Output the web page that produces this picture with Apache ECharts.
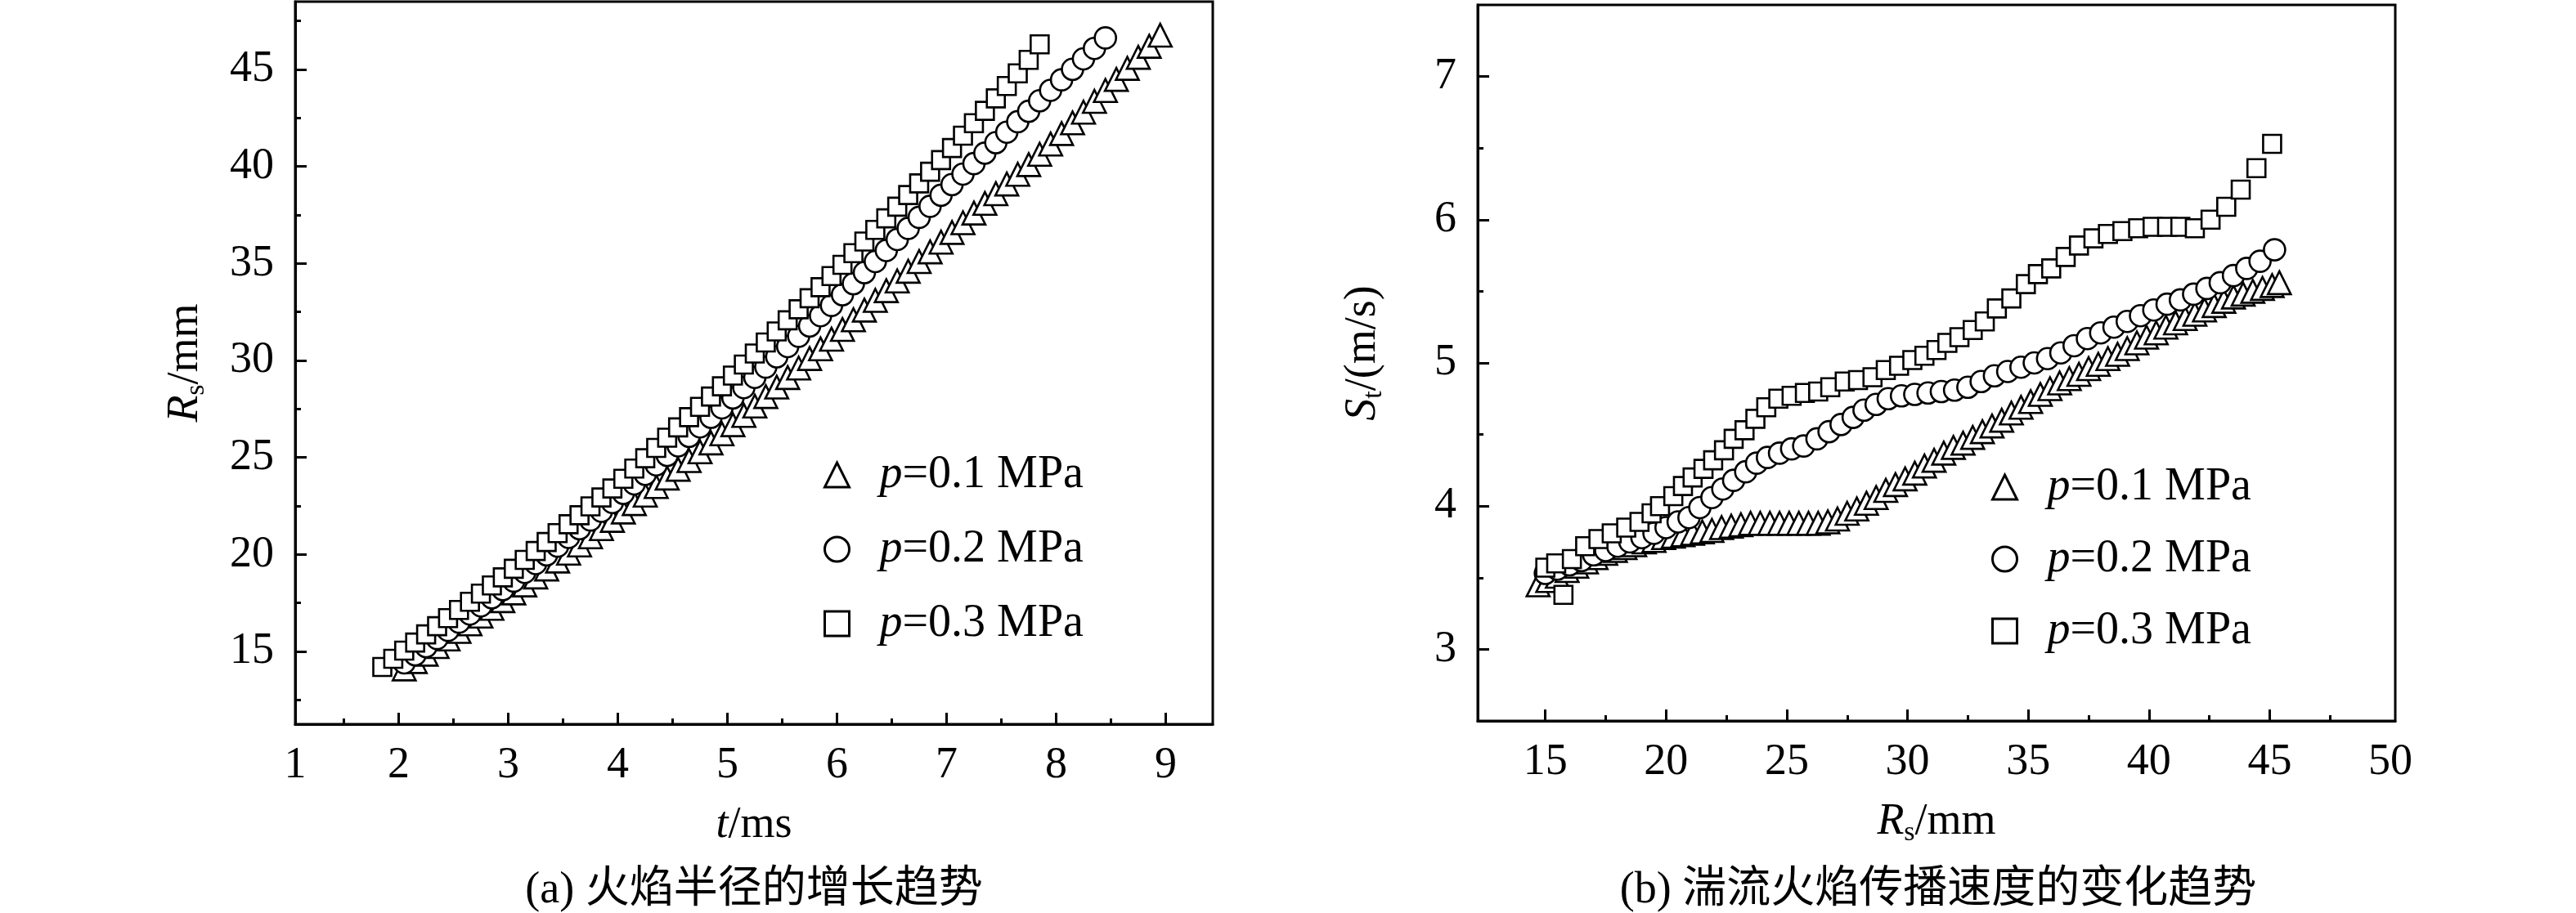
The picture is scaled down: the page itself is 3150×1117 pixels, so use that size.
<!DOCTYPE html>
<html>
<head>
<meta charset="utf-8">
<title>火焰半径与湍流火焰传播速度</title>
<script src="https://cdn.jsdelivr.net/npm/echarts@6/dist/echarts.min.js"></script>
<style>
html, body { margin: 0; padding: 0; background: #fff; }
#main { width: 3150px; height: 1117px; }
</style>
</head>
<body>
<div id="main"></div>
<script>
// 图例
var seriesNames = ['p=0.1 MPa', 'p=0.2 MPa', 'p=0.3 MPa'];
var seriesSymbols = ['triangle', 'circle', 'rect'];
var symbolSizes = [28, 26, 22];

// (a) 火焰半径 [t/ms, Rs/mm]
var radius01 = [[2.05,14.10],[2.15,14.48],[2.25,14.86],[2.35,15.25],[2.45,15.64],[2.55,16.03],[2.65,16.42],[2.75,16.82],[2.85,17.22],[2.95,17.62],
    [3.05,18.02],[3.15,18.43],[3.25,18.84],[3.35,19.25],[3.45,19.66],[3.55,20.07],[3.65,20.49],[3.75,20.91],[3.85,21.33],[3.95,21.76],
    [4.05,22.19],[4.15,22.62],[4.25,23.06],[4.35,23.50],[4.45,23.94],[4.55,24.39],[4.65,24.84],[4.75,25.29],[4.85,25.75],[4.95,26.22],
    [5.05,26.69],[5.15,27.17],[5.25,27.65],[5.35,28.14],[5.45,28.63],[5.55,29.12],[5.65,29.61],[5.75,30.10],[5.85,30.60],[5.95,31.10],
    [6.05,31.60],[6.15,32.10],[6.25,32.60],[6.35,33.10],[6.45,33.60],[6.55,34.10],[6.65,34.60],[6.75,35.10],[6.85,35.60],[6.95,36.10],
    [7.05,36.60],[7.15,37.10],[7.25,37.60],[7.35,38.10],[7.45,38.60],[7.55,39.10],[7.65,39.60],[7.75,40.10],[7.85,40.63],[7.95,41.16],
    [8.05,41.70],[8.15,42.25],[8.25,42.80],[8.35,43.36],[8.45,43.92],[8.55,44.49],[8.65,45.06],[8.75,45.63],[8.85,46.20],[8.95,46.77]];
var radius02 = [[2.05,14.41],[2.15,14.83],[2.25,15.25],[2.35,15.67],[2.45,16.09],[2.55,16.51],[2.65,16.93],[2.75,17.35],[2.85,17.77],[2.95,18.19],
    [3.05,18.63],[3.15,19.08],[3.25,19.53],[3.35,19.98],[3.45,20.43],[3.55,20.88],[3.65,21.33],[3.75,21.78],[3.85,22.23],[3.95,22.68],
    [4.05,23.15],[4.15,23.64],[4.25,24.13],[4.35,24.62],[4.45,25.11],[4.55,25.60],[4.65,26.09],[4.75,26.58],[4.85,27.07],[4.95,27.56],
    [5.05,28.07],[5.15,28.60],[5.25,29.13],[5.35,29.66],[5.45,30.19],[5.55,30.72],[5.65,31.25],[5.75,31.78],[5.85,32.31],[5.95,32.84],
    [6.05,33.39],[6.15,33.96],[6.25,34.53],[6.35,35.10],[6.45,35.67],[6.55,36.24],[6.65,36.81],[6.75,37.38],[6.85,37.95],[6.95,38.52],
    [7.05,39.07],[7.15,39.61],[7.25,40.15],[7.35,40.69],[7.45,41.23],[7.55,41.77],[7.65,42.31],[7.75,42.85],[7.85,43.39],[7.95,43.93],
    [8.05,44.47],[8.15,45.01],[8.25,45.55],[8.35,46.09],[8.45,46.63]];
var radius03 = [[1.85,14.20],[1.95,14.62],[2.05,15.04],[2.15,15.46],[2.25,15.88],[2.35,16.30],[2.45,16.72],[2.55,17.14],[2.65,17.56],[2.75,17.98],
    [2.85,18.40],[2.95,18.82],[3.05,19.26],[3.15,19.72],[3.25,20.18],[3.35,20.64],[3.45,21.10],[3.55,21.56],[3.65,22.02],[3.75,22.48],
    [3.85,22.94],[3.95,23.40],[4.05,23.90],[4.15,24.43],[4.25,24.96],[4.35,25.49],[4.45,26.02],[4.55,26.55],[4.65,27.08],[4.75,27.61],
    [4.85,28.14],[4.95,28.67],[5.05,29.22],[5.15,29.79],[5.25,30.36],[5.35,30.93],[5.45,31.50],[5.55,32.07],[5.65,32.64],[5.75,33.21],
    [5.85,33.78],[5.95,34.35],[6.05,34.93],[6.15,35.53],[6.25,36.13],[6.35,36.73],[6.45,37.33],[6.55,37.93],[6.65,38.53],[6.75,39.13],
    [6.85,39.73],[6.95,40.33],[7.05,40.95],[7.15,41.59],[7.25,42.23],[7.35,42.87],[7.45,43.51],[7.55,44.15],[7.65,44.80],[7.75,45.50],
    [7.85,46.30]];

// (b) 湍流火焰传播速度 [Rs/mm, St/(m/s)]
var speed01 = [[14.7,3.45],[15.1,3.48],[15.5,3.51],[15.9,3.55],[16.3,3.58],[16.7,3.61],[17.1,3.64],[17.5,3.67],[17.9,3.69],[18.3,3.71],
    [18.7,3.73],[19.1,3.75],[19.5,3.76],[19.9,3.78],[20.3,3.79],[20.7,3.80],[21.1,3.81],[21.5,3.82],[21.9,3.83],[22.3,3.85],
    [22.7,3.86],[23.1,3.87],[23.5,3.88],[23.9,3.88],[24.3,3.88],[24.7,3.88],[25.1,3.88],[25.5,3.88],[25.9,3.88],[26.3,3.88],
    [26.7,3.89],[27.1,3.91],[27.5,3.95],[27.9,3.98],[28.3,4.02],[28.7,4.06],[29.1,4.11],[29.5,4.15],[29.9,4.19],[30.3,4.23],
    [30.7,4.28],[31.1,4.32],[31.5,4.37],[31.9,4.41],[32.3,4.44],[32.7,4.48],[33.1,4.52],[33.5,4.56],[33.9,4.60],[34.3,4.65],
    [34.7,4.69],[35.1,4.73],[35.5,4.78],[35.9,4.82],[36.3,4.86],[36.7,4.89],[37.1,4.92],[37.5,4.96],[37.9,4.99],[38.3,5.03],
    [38.7,5.06],[39.1,5.10],[39.5,5.14],[39.9,5.18],[40.3,5.21],[40.7,5.25],[41.1,5.28],[41.5,5.31],[41.9,5.34],[42.3,5.37],
    [42.7,5.40],[43.1,5.43],[43.5,5.46],[43.9,5.48],[44.3,5.50],[44.7,5.52],[45.1,5.54],[45.4,5.56]];
var speed02 = [[15.0,3.53],[15.5,3.56],[16.0,3.59],[16.5,3.62],[17.0,3.66],[17.5,3.69],[18.0,3.72],[18.5,3.75],[19.0,3.78],[19.5,3.81],
    [20.0,3.85],[20.5,3.89],[20.95,3.92],[21.4,3.99],[21.9,4.06],[22.35,4.12],[22.8,4.18],[23.3,4.24],[23.75,4.30],[24.2,4.34],
    [24.7,4.37],[25.2,4.40],[25.7,4.42],[26.25,4.47],[26.75,4.52],[27.25,4.57],[27.75,4.62],[28.2,4.67],[28.7,4.71],[29.2,4.75],
    [29.75,4.77],[30.3,4.78],[30.85,4.79],[31.4,4.80],[31.95,4.81],[32.5,4.83],[33.05,4.87],[33.6,4.91],[34.15,4.94],[34.7,4.97],
    [35.25,5.00],[35.8,5.03],[36.35,5.07],[36.9,5.12],[37.45,5.17],[38.0,5.21],[38.55,5.25],[39.1,5.29],[39.65,5.33],[40.2,5.37],
    [40.75,5.41],[41.3,5.44],[41.85,5.48],[42.4,5.52],[42.95,5.56],[43.5,5.61],[44.05,5.66],[44.6,5.71],[45.2,5.79]];
var speed03 = [[15.0,3.57],[15.45,3.60],[15.75,3.38],[16.1,3.63],[16.65,3.72],[17.2,3.77],[17.75,3.81],[18.35,3.85],[18.9,3.89],[19.4,3.95],
    [19.75,4.00],[20.3,4.07],[20.7,4.14],[21.1,4.20],[21.55,4.26],[21.95,4.32],[22.4,4.39],[22.8,4.47],[23.25,4.53],[23.7,4.61],
    [24.15,4.69],[24.65,4.75],[25.2,4.77],[25.75,4.79],[26.3,4.80],[26.8,4.83],[27.4,4.87],[27.95,4.88],[28.55,4.90],[29.1,4.95],
    [29.65,4.98],[30.2,5.02],[30.7,5.05],[31.2,5.09],[31.65,5.14],[32.15,5.18],[32.7,5.23],[33.2,5.29],[33.7,5.38],[34.3,5.45],
    [34.9,5.55],[35.4,5.62],[35.95,5.66],[36.55,5.74],[37.1,5.82],[37.7,5.87],[38.3,5.90],[38.9,5.92],[39.55,5.94],[40.15,5.95],
    [40.75,5.95],[41.3,5.95],[41.9,5.94],[42.55,6.00],[43.2,6.09],[43.8,6.21],[44.45,6.36],[45.1,6.53]];

// 刻度
var ticksAx = [2, 3, 4, 5, 6, 7, 8, 9];
var minorAx = [1.5, 2.5, 3.5, 4.5, 5.5, 6.5, 7.5, 8.5];
var ticksAy = [15, 20, 25, 30, 35, 40, 45];
var minorAy = [12.5, 17.5, 22.5, 27.5, 32.5, 37.5, 42.5, 47.5];
var ticksBx = [15, 20, 25, 30, 35, 40, 45];
var labelsBx = [15, 20, 25, 30, 35, 40, 45, 50];
var minorBx = [17.5, 22.5, 27.5, 32.5, 37.5, 42.5, 47.5];
var ticksBy = [3, 4, 5, 6, 7];
var minorBy = [3.5, 4.5, 5.5, 6.5];

var FONT = '"Liberation Serif", "Times New Roman", serif';

// 坐标轴名称样式
function nameStyle(padding) {
    return {
        fontFamily: FONT,
        fontSize: 54,
        color: '#000',
        lineHeight: 60,
        padding: padding || 0,
        rich: {
            i: { fontFamily: FONT, fontSize: 54, fontStyle: 'italic', color: '#000', lineHeight: 60 },
            sub: { fontFamily: FONT, fontSize: 34, color: '#000', verticalAlign: 'bottom', lineHeight: 34 }
        }
    };
}

// 主坐标轴（轴线、主刻度、标签）
function mainAxis(gridIndex, min, max, ticks, labels, pos, name, nameGap, labelMargin, namePadding) {
    return {
        type: 'value',
        gridIndex: gridIndex,
        position: pos,
        min: min,
        max: max,
        axisLine: { show: true, onZero: false, lineStyle: { color: '#000', width: 3 } },
        axisTick: { show: true, inside: true, length: 14, lineStyle: { color: '#000', width: 3 }, customValues: ticks },
        axisLabel: {
            show: true,
            customValues: labels,
            margin: labelMargin,
            fontFamily: FONT,
            fontSize: 54,
            color: '#000',
            formatter: function (v) { return String(Math.round(v)); }
        },
        splitLine: { show: false },
        name: name,
        nameLocation: 'middle',
        nameGap: nameGap,
        nameRotate: pos === 'left' ? 90 : 0,
        nameTextStyle: nameStyle(namePadding)
    };
}

// 次刻度
function minorAxis(gridIndex, min, max, ticks, pos) {
    return {
        type: 'value',
        gridIndex: gridIndex,
        position: pos,
        min: min,
        max: max,
        axisLine: { show: false },
        axisTick: { show: true, inside: true, length: 7, lineStyle: { color: '#000', width: 3 }, customValues: ticks },
        axisLabel: { show: false },
        splitLine: { show: false }
    };
}

function scatterSeries(i, data, axisIndex) {
    return {
        name: seriesNames[i],
        type: 'scatter',
        xAxisIndex: axisIndex,
        yAxisIndex: axisIndex,
        symbol: seriesSymbols[i],
        symbolSize: symbolSizes[i],
        data: data,
        itemStyle: { color: '#fff', borderColor: '#000', borderWidth: 2.6, opacity: 1 },
        emphasis: { disabled: true },
        z: 2 + i
    };
}

function legendAt(left, top, gap) {
    return {
        data: seriesNames.map(function (n, i) { return { name: n, icon: seriesSymbols[i] }; }),
        orient: 'vertical',
        left: left,
        top: top,
        itemWidth: 30,
        itemHeight: 30,
        itemGap: gap,
        selectedMode: false,
        itemStyle: { color: '#fff', borderColor: '#000', borderWidth: 3 },
        formatter: function (name) { return '{g| }{i|p}' + name.substring(1); },
        textStyle: {
            fontFamily: FONT,
            fontSize: 56,
            color: '#000',
            lineHeight: 56,
            rich: {
                g: { width: 32, fontSize: 56, lineHeight: 56 },
                i: { fontFamily: FONT, fontSize: 56, fontStyle: 'italic', color: '#000', lineHeight: 56 }
            }
        }
    };
}

function drawChart() {
    var myChart = echarts.init(document.getElementById('main'));
    var option = {
        animation: false,
        backgroundColor: '#fff',
        grid: [
            { left: 361, top: 2, width: 1122, height: 884, show: true, borderColor: '#000', borderWidth: 3, backgroundColor: 'transparent' },
            { left: 1807, top: 6, width: 1122, height: 876, show: true, borderColor: '#000', borderWidth: 3, backgroundColor: 'transparent' }
        ],
        xAxis: [
            mainAxis(0, 1.055, 9.43, ticksAx, [1.055].concat(ticksAx), 'bottom', '{i|t}/ms', 94, 24),
            minorAxis(0, 1.055, 9.43, minorAx, 'bottom'),
            mainAxis(1, 12.2, 50.2, ticksBx, labelsBx, 'bottom', '{i|R}{sub|s}/mm', 94, 24),
            minorAxis(1, 12.2, 50.2, minorBx, 'bottom')
        ],
        yAxis: [
            mainAxis(0, 11.25, 48.5, ticksAy, ticksAy, 'left', '{i|R}{sub|s}/mm', 104, 26),
            minorAxis(0, 11.25, 48.5, minorAy, 'left'),
            mainAxis(1, 2.5, 7.5, ticksBy, ticksBy, 'left', '{i|S}{sub|t}/(m/s)', 110, 26, [0, 0, 0, 24]),
            minorAxis(1, 2.5, 7.5, minorBy, 'left')
        ],
        legend: [
            legendAt(1002, 548, 35),
            legendAt(2430, 563, 32)
        ],
        series: [
            scatterSeries(0, radius01, 0),
            scatterSeries(1, radius02, 0),
            scatterSeries(2, radius03, 0),
            scatterSeries(0, speed01, 2),
            scatterSeries(1, speed02, 2),
            scatterSeries(2, speed03, 2)
        ],
        // 图题
        graphic: [
            { type: 'text', x: 922, y: 1090, style: { text: '(a) 火焰半径的增长趋势', font: '54px "Liberation Serif", "Noto Sans CJK SC"', fill: '#000', align: 'center', verticalAlign: 'middle' } },
            { type: 'text', x: 2370, y: 1090, style: { text: '(b) 湍流火焰传播速度的变化趋势', font: '54px "Liberation Serif", "Noto Sans CJK SC"', fill: '#000', align: 'center', verticalAlign: 'middle' } }
        ]
    };
    myChart.setOption(option);
}

window.addEventListener('load', drawChart);
</script>
</body>
</html>
